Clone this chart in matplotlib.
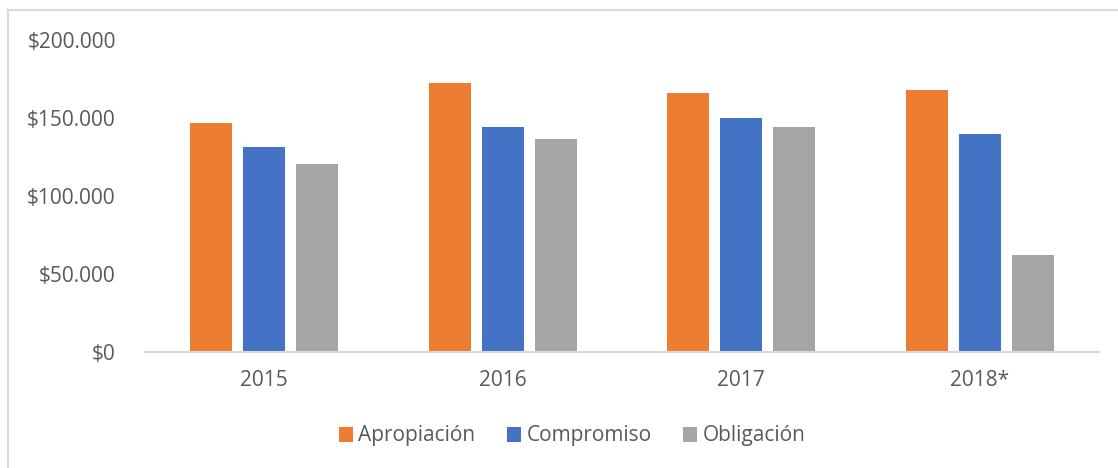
import matplotlib
matplotlib.use("Agg")
import matplotlib.pyplot as plt
import numpy as np
from matplotlib.patches import Rectangle
from matplotlib.ticker import FuncFormatter

# Data
years = ["2015", "2016", "2017", "2018*"]
apropiacion = [147000, 172500, 166000, 168000]
compromiso = [131500, 144000, 150000, 140000]
obligacion = [120500, 136500, 144000, 62500]

series = [("Apropiación", apropiacion, "#ED7D31"),
          ("Compromiso", compromiso, "#4472C4"),
          ("Obligación", obligacion, "#A5A5A5")]

plt.rcParams["font.family"] = ["Open Sans", "DejaVu Sans"]
text_color = "#595959"

fig = plt.figure(figsize=(11.18, 4.68), dpi=100)
ax = fig.add_axes([145 / 1118, 1 - 352 / 468, (1099 - 145) / 1118, (352 - 40) / 468])

# chart border (cut off on the right and bottom like the screenshot)
fig.patches.append(Rectangle((8 / 1118, -0.1), 1.1, 1 - 10 / 468 + 0.1,
                             transform=fig.transFigure, fill=False,
                             edgecolor="#D9D9D9", linewidth=1.5))

x = np.arange(len(years))
width = 0.176
step = 0.222
for i, (name, vals, color) in enumerate(series):
    ax.bar(x + (i - 1) * step, vals, width, color=color, label=name)

ax.set_xlim(-0.5, len(years) - 0.5)
ax.set_ylim(0, 200000)
ax.set_yticks([0, 50000, 100000, 150000, 200000])
ax.yaxis.set_major_formatter(FuncFormatter(lambda v, p: "$" + f"{int(v):,}".replace(",", ".")))
ax.set_xticks(x)
ax.set_xticklabels(years)

for side in ["top", "right", "left"]:
    ax.spines[side].set_visible(False)
ax.spines["bottom"].set_color("#D9D9D9")
ax.spines["bottom"].set_linewidth(1.5)
ax.tick_params(axis="both", length=0, labelsize=15, colors=text_color)
ax.tick_params(axis="y", pad=21)
ax.tick_params(axis="x", pad=13)

leg = fig.legend(loc="center", bbox_to_anchor=(572 / 1118, 1 - 436 / 468), ncol=3,
                 frameon=False, fontsize=15, handlelength=0.7, handleheight=0.7,
                 handletextpad=0.25, columnspacing=1.5)
for t in leg.get_texts():
    t.set_color(text_color)

fig.savefig("out.png", dpi=100)
